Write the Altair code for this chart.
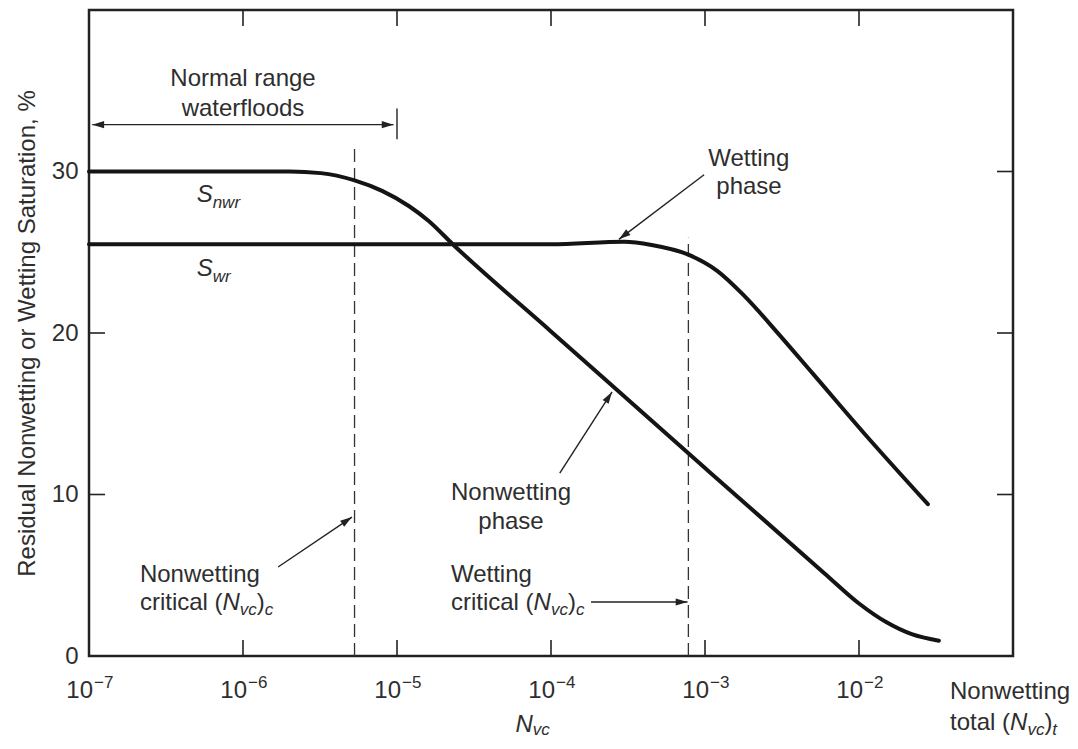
import math
import altair as alt
import pandas as pd

FONT = "Liberation Sans"
TXT = "#2e2e2e"
INK = "#141414"

# ---------------- plot geometry ----------------
W, H = 924, 646
X_DOMAIN = [1e-7, 1e-1]
Y_DOMAIN = [0, 40]
PX_DEC = W / math.log10(X_DOMAIN[1] / X_DOMAIN[0])
PX_UNIT = H / (Y_DOMAIN[1] - Y_DOMAIN[0])

# ---------------- data ----------------
SNWR_X = [1e-7, 1e-6, 2.0e-6, 3.2e-6, 5.3e-6, 8.0e-6, 1.2e-5, 1.6e-5, 2.3e-5, 1.0e-4,
          1.0e-3, 6.0e-3, 1.0e-2, 1.5e-2, 2.2e-2, 3.3e-2]
SNWR_Y = [30.0, 30.0, 30.0, 29.9, 29.45, 28.8, 27.85, 26.95, 25.5, 20.1,
          11.64, 5.1, 3.25, 2.1, 1.35, 0.95]

SWR_X = [1e-7, 1e-5, 1e-4, 3.0e-4, 4.5e-4, 7.8e-4, 1.2e-3, 1.8e-3, 3.0e-3,
         5.0e-3, 1.1e-2, 2.8e-2]
SWR_Y = [25.5, 25.5, 25.5, 25.65, 25.45, 24.85, 23.85, 22.3, 19.95,
         17.5, 13.7, 9.4]

DASH_X = [5.3e-6, 7.8e-4]
DASH_TOP = [31.5, 25.9]

X_TICKS = [1e-6, 1e-5, 1e-4, 1e-3, 1e-2]
X_LABEL_VALUES = [1e-7, 1e-6, 1e-5, 1e-4, 1e-3, 1e-2]
X_LABEL_EXP = ["\u22127", "\u22126", "\u22125", "\u22124", "\u22123", "\u22122"]
Y_TICKS = [10, 20, 30]
Y_LABELS = [0, 10, 20, 30]
Y_TITLE = "Residual Nonwetting or Wetting Saturation, %"

# arrows: tail (x, y) -> head (x, y)
ARROWS = [
    (1.0e-6, 32.9, 1.05e-7, 32.9),
    (1.0e-6, 32.9, 9.5e-6, 32.9),
    (9.86e-4, 29.8, 2.76e-4, 25.8),
    (1.14e-4, 11.33, 2.49e-4, 16.35),
    (1.69e-6, 5.51, 5.1e-6, 8.6),
    (1.82e-4, 3.34, 7.7e-4, 3.34),
]
RANGE_BAR = (1e-5, 32.0, 33.9)

CRIT = lambda last: [("critical (", 24, False, 0), ("N", 24, True, 0),
                     ("vc", 17, True, 5), (")", 24, False, 0), (last, 17, True, 5)]
ANNOT = [
    (1.0e-6, 35.3, "center", [("Normal range", 24, False, 0)]),
    (1.0e-6, 33.44, "center", [("waterfloods", 24, False, 0)]),
    (5.0e-7, 28.1, "left", [("S", 24, True, 0), ("nwr", 17, True, 6)]),
    (5.0e-7, 23.5, "left", [("S", 24, True, 0), ("wr", 17, True, 6)]),
    (1.93e-3, 30.34, "center", [("Wetting", 24, False, 0)]),
    (1.93e-3, 28.6, "center", [("phase", 24, False, 0)]),
    (5.5e-5, 9.66, "center", [("Nonwetting", 24, False, 0)]),
    (5.5e-5, 7.86, "center", [("phase", 24, False, 0)]),
    (2.14e-7, 4.58, "left", [("Nonwetting", 24, False, 0)]),
    (2.14e-7, 2.85, "left", CRIT("c")),
    (2.24e-5, 4.58, "left", [("Wetting", 24, False, 0)]),
    (2.24e-5, 2.85, "left", CRIT("c")),
    (3.9e-2, -2.66, "left", [("Nonwetting", 24, False, 0)]),
    (3.9e-2, -4.58, "left", [("total (", 24, False, 0), ("N", 24, True, 0),
                            ("vc", 17, True, 5), (")", 24, False, 0), ("t", 17, True, 5)]),
    (7.6e-5, -4.7, "center", [("N", 24, True, 0), ("vc", 17, True, 3)]),
]

# ---------------- layout helpers ----------------
ARIAL = {"a": .556, "b": .556, "c": .5, "d": .556, "e": .556, "f": .278, "g": .556,
         "h": .556, "i": .222, "l": .222, "m": .833, "n": .556, "o": .556, "p": .556,
         "r": .333, "s": .5, "t": .278, "u": .556, "v": .5, "w": .722, "y": .5,
         " ": .278, "(": .333, ")": .333, "N": .722, "S": .667, "W": .944, "k": .5}


def width(s, size):
    return sum(ARIAL.get(ch, .556) for ch in s) * size


rows = []
for xa, ya, align, parts in ANNOT:
    total = sum(width(t, s) for t, s, _, _ in parts)
    off = 0 if align == "left" else -total / 2
    for t, s, it, dy in parts:
        rows.append(dict(x=xa * 10 ** (off / PX_DEC), y=ya - dy / PX_UNIT,
                         text=t, size=s, italic=it))
        off += width(t, s)
ann = pd.DataFrame(rows)

curves = pd.concat([
    pd.DataFrame(dict(x=SNWR_X, y=SNWR_Y, series="Snwr")),
    pd.DataFrame(dict(x=SWR_X, y=SWR_Y, series="Swr")),
])
dash = pd.DataFrame(dict(x=DASH_X, y=[0, 0], y2=DASH_TOP))

arr = pd.DataFrame(ARROWS, columns=["x", "y", "x2", "y2"])
def head_angle(r):
    dxp = (math.log10(r.x2) - math.log10(r.x)) * PX_DEC
    dyp = -(r.y2 - r.y) * PX_UNIT
    return math.degrees(math.atan2(dxp, -dyp)) % 360
arr["angle"] = arr.apply(head_angle, axis=1)

TICK_U = 16 / PX_UNIT
TICK_F = 10 ** (16 / PX_DEC)
ticks_v = pd.DataFrame(dict(x=X_TICKS * 2,
                            y=[0] * len(X_TICKS) + [Y_DOMAIN[1]] * len(X_TICKS),
                            y2=[TICK_U] * len(X_TICKS) + [Y_DOMAIN[1] - TICK_U] * len(X_TICKS)))
ticks_h = pd.DataFrame(dict(y=Y_TICKS * 2,
                            x=[X_DOMAIN[0]] * len(Y_TICKS) + [X_DOMAIN[1] / TICK_F] * len(Y_TICKS),
                            x2=[X_DOMAIN[0] * TICK_F] * len(Y_TICKS) + [X_DOMAIN[1]] * len(Y_TICKS)))
bar = pd.DataFrame(dict(x=[RANGE_BAR[0]], y=[RANGE_BAR[1]], y2=[RANGE_BAR[2]]))
xlab = pd.DataFrame(dict(x=X_LABEL_VALUES, base="10", exp=X_LABEL_EXP))

# ---------------- encodings ----------------
XS = alt.Scale(type="log", domain=X_DOMAIN, nice=False)
YS = alt.Scale(domain=Y_DOMAIN, nice=False, zero=False)
YAX = alt.Axis(values=Y_LABELS, domain=False, ticks=False, grid=False,
               labelFont=FONT, labelFontSize=24, labelColor=TXT, labelPadding=11,
               titleFont=FONT, titleFontSize=24, titleFontWeight="normal",
               titleColor=TXT, titlePadding=12)


def X(f="x"):
    return alt.X(f"{f}:Q", scale=XS, axis=None)


def Y(f="y"):
    return alt.Y(f"{f}:Q", scale=YS, axis=YAX, title=Y_TITLE)


curve_layer = alt.Chart(curves).mark_line(
    color=INK, strokeWidth=4, interpolate="monotone", strokeCap="round"
).encode(x=X(), y=Y(), detail="series:N")

dash_layer = alt.Chart(dash).mark_rule(
    color="#333", strokeWidth=1.3, strokeDash=[13, 6]
).encode(x=X(), y=Y(), y2="y2:Q")

arrow_lines = alt.Chart(arr).mark_rule(color="#222", strokeWidth=1.4).encode(
    x=X(), y=Y(), x2="x2:Q", y2="y2:Q")

arrow_heads = alt.Chart(arr).mark_point(
    shape="M0,0 L0.3,1 L-0.3,1 Z", filled=True, color="#222", size=560, opacity=1
).encode(x=X("x2"), y=Y("y2"), angle=alt.Angle("angle:Q", scale=None))

bar_layer = alt.Chart(bar).mark_rule(color="#222", strokeWidth=1.4).encode(
    x=X(), y=Y(), y2="y2:Q")

tick_v_layer = alt.Chart(ticks_v).mark_rule(color="#222", strokeWidth=1.6).encode(
    x=X(), y=Y(), y2="y2:Q")
tick_h_layer = alt.Chart(ticks_h).mark_rule(color="#222", strokeWidth=1.6).encode(
    x=X(), x2="x2:Q", y=Y())

xlab_base = alt.Chart(xlab).mark_text(
    font=FONT, fontSize=24, color=TXT, align="right", baseline="alphabetic", dx=4
).encode(x=X(), y=alt.Y("yb:Q", scale=YS, axis=YAX, title=Y_TITLE),
         text="base:N").transform_calculate(yb="-2.6")
xlab_exp = alt.Chart(xlab).mark_text(
    font=FONT, fontSize=17, color=TXT, align="left", baseline="alphabetic", dx=5
).encode(x=X(), y=alt.Y("ye:Q", scale=YS, axis=YAX, title=Y_TITLE),
         text="exp:N").transform_calculate(ye="-1.98")

ann_reg = alt.Chart(ann[~ann.italic]).mark_text(
    font=FONT, color=TXT, align="left", baseline="alphabetic"
).encode(x=X(), y=Y(), text="text:N", size=alt.Size("size:Q", scale=None))
ann_it = alt.Chart(ann[ann.italic]).mark_text(
    font=FONT, color=TXT, align="left", baseline="alphabetic", fontStyle="italic"
).encode(x=X(), y=Y(), text="text:N", size=alt.Size("size:Q", scale=None))

chart = alt.layer(
    dash_layer, tick_v_layer, tick_h_layer, bar_layer, arrow_lines, arrow_heads,
    curve_layer, xlab_base, xlab_exp, ann_reg, ann_it
).properties(
    width=W, height=H,
    autosize=alt.AutoSizeParams(type="none"),
    padding={"left": 81, "top": 2, "right": 57, "bottom": 85},
    background="white",
).configure_view(stroke="#222", strokeWidth=2.5)

chart.save("out.html", embed_options={"renderer": "svg", "actions": False})
